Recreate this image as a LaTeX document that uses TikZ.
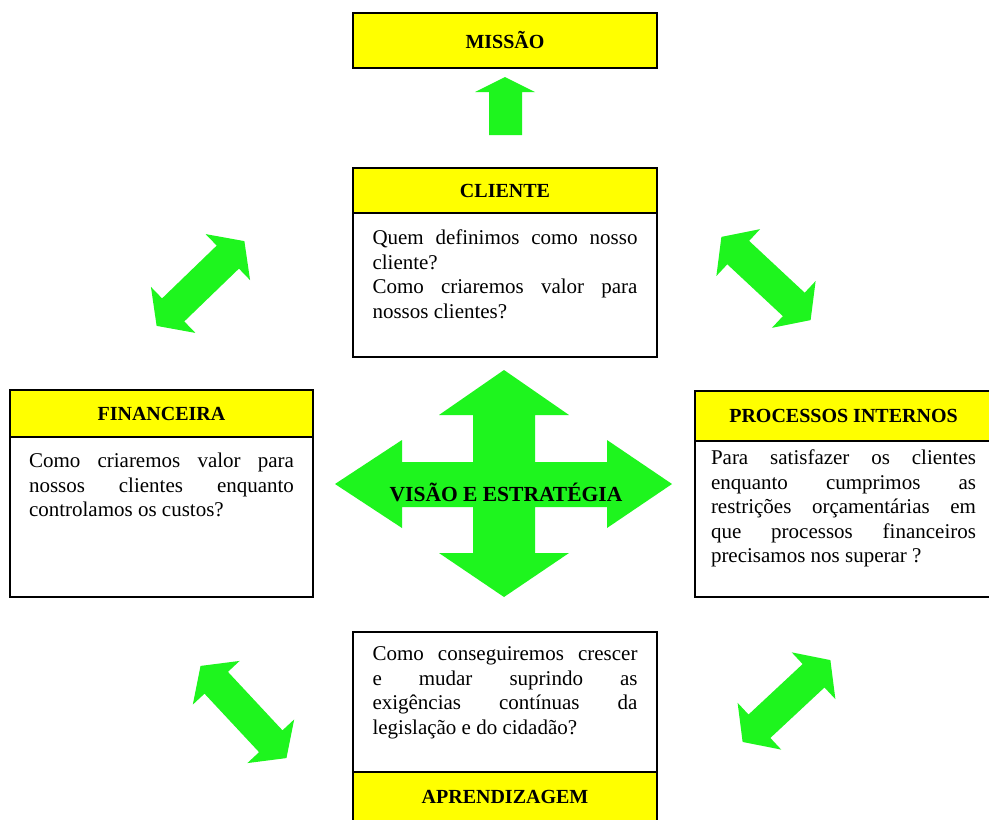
\documentclass[tikz,border=0pt]{standalone}
\usepackage{fontspec}
\setmainfont{Liberation Serif}
\usetikzlibrary{positioning}
\definecolor{boxyellow}{RGB}{255,255,0}
\definecolor{arrowgreen}{RGB}{30,245,30}
\tolerance=10000
\hbadness=10000
\hyphenpenalty=10000
\tikzstyle{titlenode}=[draw, fill=boxyellow, line width=1.2pt, outer sep=0pt, inner sep=0pt, font=\fontsize{20}{24}\selectfont\bfseries]
\tikzstyle{framenode}=[draw, fill=white, line width=1.2pt, outer sep=0pt, inner sep=0pt]
\tikzstyle{textnode}=[draw=none, inner sep=0pt, outer sep=0pt, text width=265pt, align=justify, font=\fontsize{21}{24.5}\selectfont]
\tikzstyle{greenfill}=[fill=arrowgreen, draw=none]
\newcommand{\dblarrow}[3]{\fill[greenfill, shift={(#1)}, rotate=#2] (-#3,0) -- (23-#3,-32) -- (23-#3,-16) -- (#3-23,-16) -- (#3-23,-32) -- (#3,0) -- (#3-23,32) -- (#3-23,16) -- (23-#3,16) -- (23-#3,32) -- cycle;}

\begin{document}
\begin{tikzpicture}[x=1pt, y=-1pt]
\useasboundingbox (0,0) rectangle (989,820);
\fill[white] (0,0) rectangle (989,820);
\node[titlenode, minimum width=304pt, minimum height=55pt, anchor=north west] (missao) at (353,13) {MISSÃO};
\fill[greenfill] (505,77) -- (535,92) -- (522,92) -- (522,135) -- (489,135) -- (489,92) -- (475,92) -- cycle;
\node[titlenode, minimum width=304pt, minimum height=45pt, anchor=north west] (cliente) at (353,168) {CLIENTE};
\node[framenode, minimum width=304pt, minimum height=144pt, below=0pt of cliente] (clientebox) {};
\node[textnode, below=17pt of clientebox.north] (clientetxt) {Quem definimos como nosso\linebreak cliente?\newline Como criaremos valor para\linebreak nossos clientes?};
\node[titlenode, minimum width=303pt, minimum height=47pt, anchor=north west] (financeira) at (10,390) {FINANCEIRA};
\node[framenode, minimum width=303pt, minimum height=160pt, below=0pt of financeira] (financeirabox) {};
\node[textnode, below=16pt of financeirabox.north] (financeiratxt) {Como criaremos valor para\linebreak nossos clientes enquanto\linebreak controlamos os custos?};
\node[titlenode, minimum width=297pt, minimum height=50pt, anchor=north west] (processos) at (695,391) {PROCESSOS INTERNOS};
\node[framenode, minimum width=297pt, minimum height=156pt, below=0pt of processos] (processosbox) {};
\node[textnode, below=9pt of processosbox.north] (processostxt) {Para satisfazer os clientes\linebreak enquanto cumprimos as\linebreak restrições orçamentárias em\linebreak que processos financeiros\linebreak precisamos nos superar ?};
\node[framenode, minimum width=304pt, minimum height=140pt, anchor=north west] (aprendbox) at (353,632) {};
\node[titlenode, minimum width=304pt, minimum height=50pt, below=0pt of aprendbox] (aprendizagem) {APRENDIZAGEM};
\node[textnode, below=15pt of aprendbox.north] (aprendtxt) {Como conseguiremos crescer\linebreak e mudar suprindo as\linebreak exigências contínuas da\linebreak legislação e do cidadão?};
\fill[greenfill] (504,370) -- (569,415) -- (535,415) -- (535,462) -- (607,462) -- (607,440) -- (672,484) -- (607,528) -- (607,507) -- (535,507) -- (535,553) -- (569,553) -- (504,597) -- (439,553) -- (473,553) -- (473,507) -- (402,507) -- (402,528) -- (335,484) -- (402,440) -- (402,462) -- (473,462) -- (473,415) -- (439,415) -- cycle;
\node[font=\fontsize{21.5}{24}\selectfont\bfseries] (visao) at (506,492) {VISÃO E ESTRATÉGIA};
\dblarrow{200.5,283.5}{44}{61}
\dblarrow{766,278.5}{-43}{61}
\dblarrow{243.5,712}{-47}{63}
\dblarrow{786.5,701}{43}{60}
\end{tikzpicture}
\end{document}
